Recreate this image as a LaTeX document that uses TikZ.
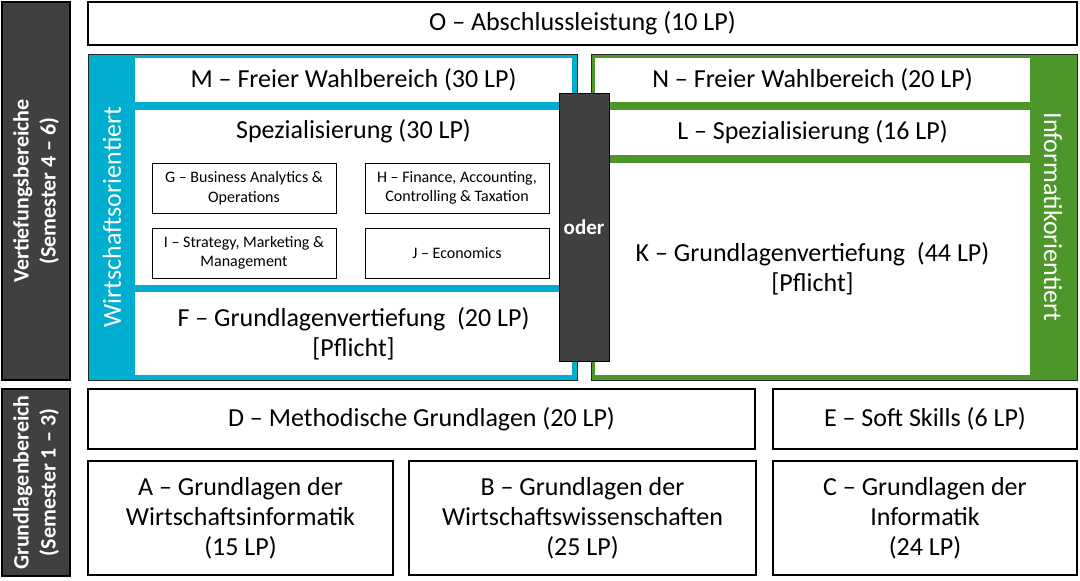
\documentclass[tikz,border=0pt]{standalone}
\usepackage{fontspec}
\setmainfont{Carlito}
\definecolor{wblue}{RGB}{0,174,208}
\definecolor{igreen}{RGB}{77,150,42}
\definecolor{dgray}{RGB}{64,64,64}
\begin{document}
\begin{tikzpicture}[x=1pt,y=-1pt,
  every node/.style={inner sep=0pt,outer sep=0pt},
  box/.style={draw=black,line width=1.2pt,fill=white,anchor=north west,align=center,
    font=\fontsize{26}{30}\selectfont},
  inbox/.style={fill=white,anchor=north west,align=center,font=\fontsize{26}{30}\selectfont},
  small/.style={draw=black,line width=0.9pt,fill=white,anchor=north west,align=center,
    font=\fontsize{16}{19.5}\selectfont},
  sidebar/.style={draw=black,line width=1.2pt,fill=dgray,anchor=north west},
  sidetext/.style={text=white,rotate=90,align=center,font=\fontsize{22}{27}\selectfont\bfseries},
  frame/.style={draw=black!85,line width=1pt,anchor=north west},
  striptext/.style={text=white,font=\fontsize{26}{30}\selectfont}
]
\useasboundingbox (0,0) rectangle (1080,581);

% left side bars
\node[sidebar,minimum width=68pt,minimum height=378pt] (vb) at (2,2) {};
\node[sidetext] (vbt) at (vb.center) {Vertiefungsbereiche\\(Semester 4 – 6)};
\node[sidebar,minimum width=68pt,minimum height=187pt] (gb) at (2,389) {};
\node[sidetext] (gbt) at (gb.center) {Grundlagenbereich\\(Semester 1 – 3)};

% O
\node[box,minimum width=989pt,minimum height=43pt] (O) at (88,2) {O – Abschlussleistung (10 LP)};

% blue frame
\node[frame,fill=wblue,minimum width=489pt,minimum height=326pt] (bf) at (88,54) {};
\node[inbox,minimum width=437pt,minimum height=44pt] (M) at (135,58) {M – Freier Wahlbereich (30 LP)};
\node[inbox,minimum width=437pt,minimum height=175pt] (S) at (135,110) {};
\node[font=\fontsize{26}{30}\selectfont] (St) at (353.5,131) {Spezialisierung (30 LP)};
\node[inbox,minimum width=437pt,minimum height=83pt] (F) at (135,292) {F – Grundlagenvertiefung~~(20 LP)\\{[Pflicht]}};
\node[striptext,rotate=90] (wo) at (112,217) {Wirtschaftsorientiert};

\node[small,minimum width=184pt,minimum height=50pt] (G) at (152,163) {G – Business Analytics \&\\Operations};
\node[small,minimum width=184pt,minimum height=50pt] (H) at (365,163) {H – Finance, Accounting,\\Controlling \& Taxation};
\node[small,minimum width=184pt,minimum height=50pt] (I) at (152,228) {I – Strategy, Marketing \&\\Management};
\node[small,minimum width=184pt,minimum height=50pt] (J) at (365,228) {J – Economics};

% green frame
\node[frame,fill=igreen,minimum width=486pt,minimum height=326pt] (gf) at (591,54) {};
\node[inbox,minimum width=435pt,minimum height=44pt] (N) at (595,58) {N – Freier Wahlbereich (20 LP)};
\node[inbox,minimum width=435pt,minimum height=45pt] (L) at (595,110) {L – Spezialisierung (16 LP)};
\node[inbox,minimum width=435pt,minimum height=212pt] (K) at (595,163) {K – Grundlagenvertiefung~~(44 LP)\\{[Pflicht]}};
\node[striptext,rotate=-90] (io) at (1053,217) {Informatikorientiert};

% oder
\node[sidebar,line width=1pt,minimum width=50pt,minimum height=268pt] (oder) at (559,93) {};
\node[text=white,font=\fontsize{21}{24}\selectfont\bfseries] (odert) at (oder.center) {oder};

% lower part
\node[box,minimum width=667pt,minimum height=60pt] (D) at (88,389) {D – Methodische Grundlagen (20 LP)};
\node[box,minimum width=304pt,minimum height=60pt] (E) at (773,389) {E – Soft Skills (6 LP)};
\node[box,minimum width=305pt,minimum height=114pt] (A) at (88,461) {A – Grundlagen der\\Wirtschaftsinformatik\\(15 LP)};
\node[box,minimum width=347pt,minimum height=114pt] (B) at (409,461) {B – Grundlagen der\\Wirtschaftswissenschaften\\(25 LP)};
\node[box,minimum width=304pt,minimum height=114pt] (C) at (773,461) {C – Grundlagen der\\Informatik\\(24 LP)};
\end{tikzpicture}
\end{document}
